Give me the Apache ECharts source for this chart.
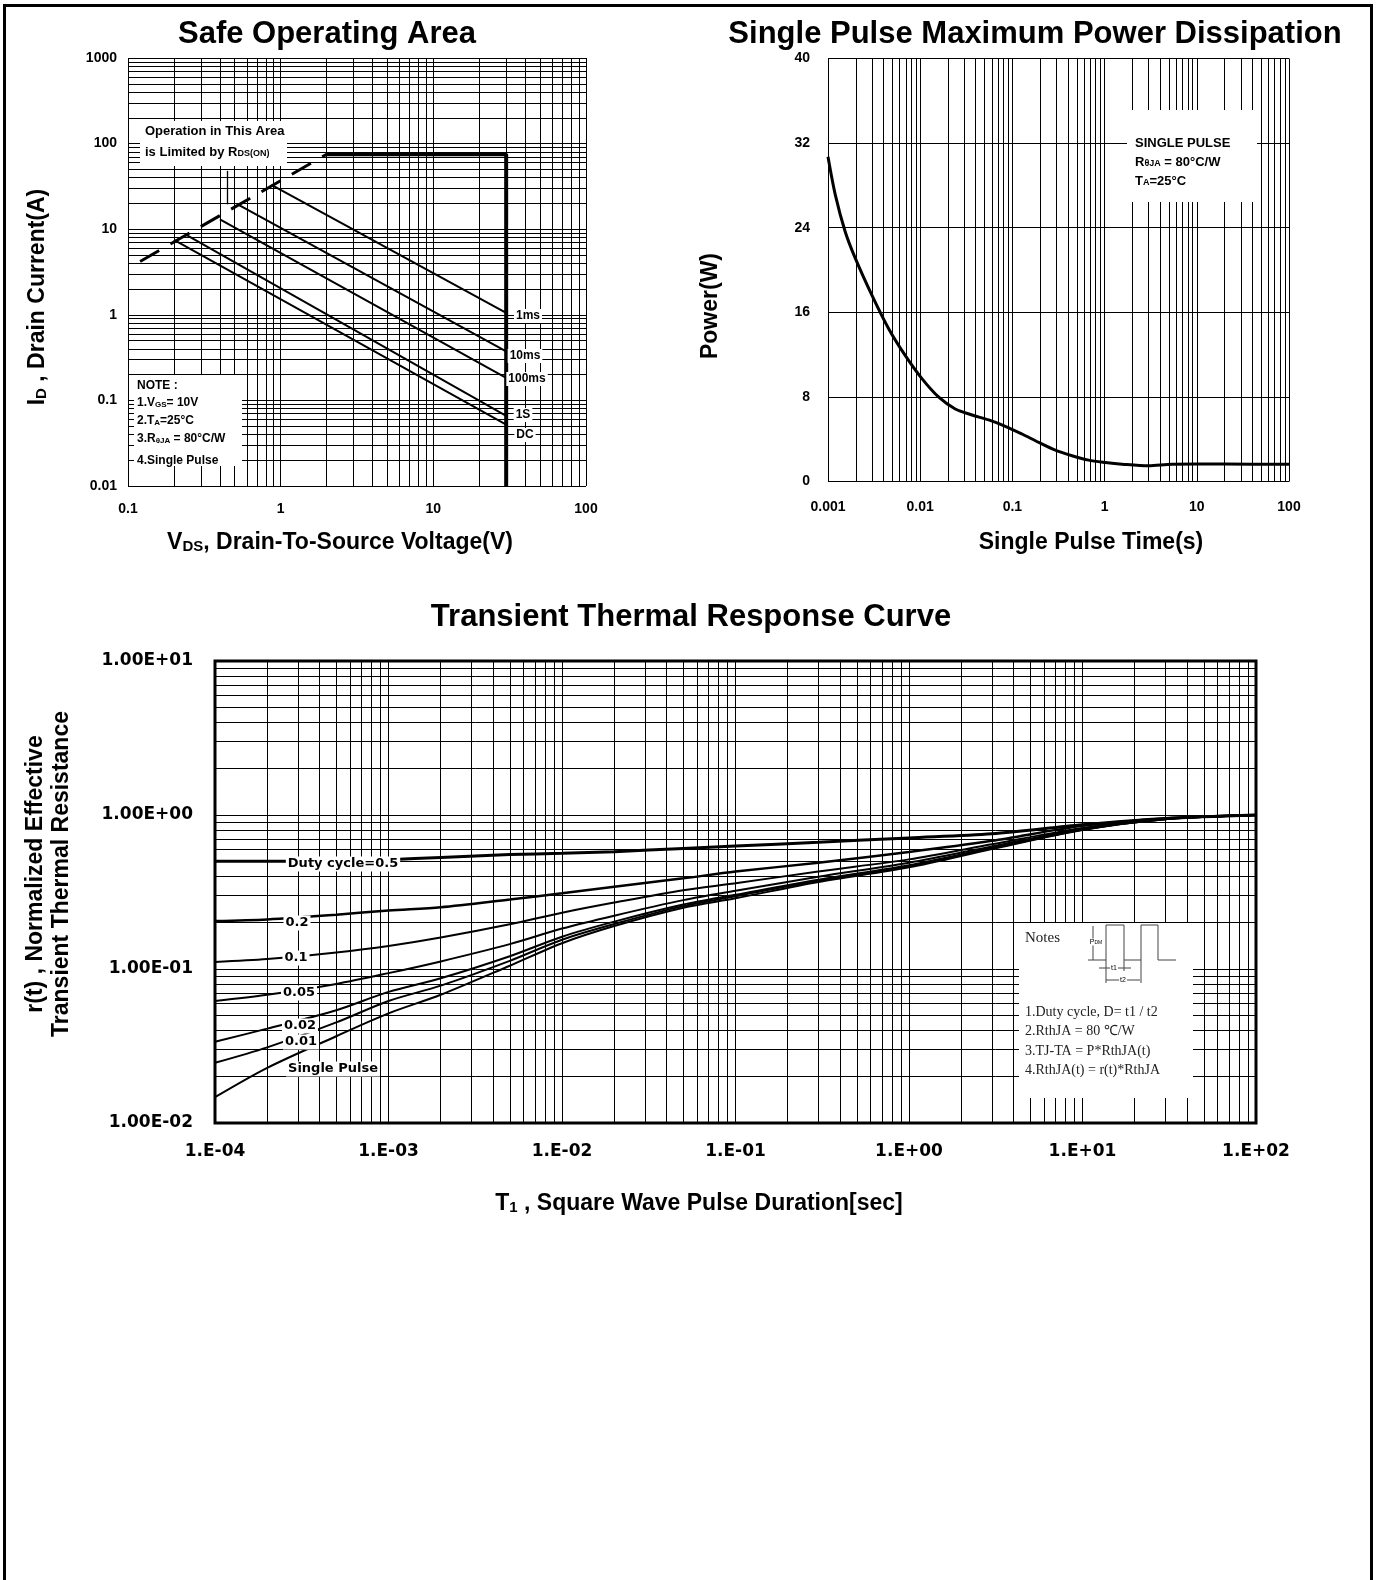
<!DOCTYPE html>
<html>
<head>
<meta charset="utf-8">
<script src="https://cdn.jsdelivr.net/npm/echarts@6/dist/echarts.min.js"></script>
<style>
html, body { margin: 0; padding: 0; background: #fff; }
#main { width: 1379px; height: 1580px; }
#frame { position: absolute; left: 3px; top: 4px; width: 1364px; height: 1600px; border: 3px solid #000; border-bottom: none; pointer-events: none; }
</style>
</head>
<body>
<div id="main"></div>
<div id="frame"></div>
<script>
// ---- Safe Operating Area (VDS in V, ID in A) ----
const soaXLabels = ['0.1', '1', '10', '100'];
const soaYLabels = ['0.01', '0.1', '1', '10', '100', '1000'];
const rdsLimitV = [0.12, 2];
const rdsLimitA = [4.2, 75];
const currentLimitV = [2, 30, 30];
const currentLimitA = [75, 75, 0.01];
const soaNames = ['1ms', '10ms', '100ms', '1S', 'DC'];
const soaStartV = [0.87, 0.527, 0.40, 0.244, 0.2];
const soaStartA = [33, 19.4, 13, 8.45, 7.5];
const soaEndV = [30, 30, 30, 30, 30];
const soaEndA = [1.05, 0.375, 0.183, 0.066, 0.052];

// ---- Single pulse maximum power dissipation ----
const spXLabels = ['0.001', '0.01', '0.1', '1', '10', '100'];
const spYLabels = ['0', '8', '16', '24', '32', '40'];
const pulseTime = [0.001, 0.0012, 0.00154, 0.00198, 0.003, 0.00455, 0.0069, 0.0105, 0.0159, 0.024, 0.0365, 0.0553, 0.0838, 0.127, 0.193, 0.292, 0.443, 0.671, 1.02, 1.55, 3.0, 5.4, 20, 100];
const pulsePower = [30.7, 27.1, 23.6, 21.1, 17.6, 14.45, 11.9, 9.7, 7.97, 6.86, 6.29, 5.82, 5.22, 4.49, 3.7, 2.97, 2.44, 2.02, 1.8, 1.64, 1.49, 1.64, 1.65, 1.62];

// ---- Transient thermal response ----
const ttXLabels = ['1.E-04', '1.E-03', '1.E-02', '1.E-01', '1.E+00', '1.E+01', '1.E+02'];
const ttYLabels = ['1.00E-02', '1.00E-01', '1.00E+00', '1.00E+01'];
const duration = [1e-4, 2e-4, 5e-4, 1e-3, 2e-3, 5e-3, 1e-2, 2e-2, 5e-2, 0.1, 0.3, 1, 3, 10, 30, 100];
const duty05 = [0.5, 0.5, 0.503, 0.513, 0.53, 0.553, 0.564, 0.578, 0.607, 0.629, 0.665, 0.71, 0.755, 0.865, 0.95, 1.0];
const duty02 = [0.205, 0.21, 0.225, 0.24, 0.252, 0.283, 0.31, 0.342, 0.388, 0.429, 0.49, 0.575, 0.68, 0.85, 0.95, 1.0];
const duty01 = [0.111, 0.116, 0.128, 0.141, 0.16, 0.195, 0.232, 0.27, 0.325, 0.36, 0.43, 0.515, 0.645, 0.825, 0.945, 1.0];
const duty005 = [0.062, 0.068, 0.08, 0.094, 0.112, 0.145, 0.183, 0.222, 0.28, 0.322, 0.397, 0.49, 0.625, 0.815, 0.945, 1.0];
const duty002 = [0.0337, 0.041, 0.054, 0.071, 0.087, 0.121, 0.162, 0.203, 0.262, 0.303, 0.38, 0.472, 0.612, 0.806, 0.94, 1.0];
const duty001 = [0.0246, 0.031, 0.045, 0.062, 0.078, 0.113, 0.155, 0.196, 0.256, 0.297, 0.374, 0.465, 0.607, 0.803, 0.94, 1.0];
const singlePulse = [0.0147, 0.0228, 0.0366, 0.0515, 0.068, 0.105, 0.147, 0.19, 0.25, 0.288, 0.367, 0.457, 0.601, 0.8, 0.94, 1.0];

const sans = '"Liberation Sans", Arial, sans-serif';
const wide = '"DejaVu Sans", sans-serif';
const serif = '"Liberation Serif", "Times New Roman", serif';

// log grid lines 1..9 x 10^e
function decades(lo, hi) {
  const out = [];
  for (let e = lo; e < hi; e++) {
    for (let m = 1; m < 10; m++) out.push(m * Math.pow(10, e));
  }
  out.push(Math.pow(10, hi));
  return out;
}

function gridLines(i, xs, ys) {
  return {
    type: 'line', xAxisIndex: i, yAxisIndex: i, data: [], silent: true, z: 1,
    markLine: {
      silent: true, symbol: ['none', 'none'], z: 1, animation: false, precision: 12,
      label: { show: false },
      lineStyle: { color: '#000', width: 1, type: 'solid' },
      data: xs.map(v => ({ xAxis: v })).concat(ys.map(v => ({ yAxis: v })))
    }
  };
}

function curve(i, xs, ys, w, extra) {
  return Object.assign({
    type: 'line', xAxisIndex: i, yAxisIndex: i, z: 3, silent: true,
    symbol: 'none', showSymbol: false,
    data: xs.map((x, k) => [x, ys[k]]),
    lineStyle: { color: '#000', width: w }
  }, extra || {});
}

function text(x, y, str, size, opt) {
  opt = opt || {};
  const al = opt.align || 'center';
  return {
    type: 'text', x: x, y: y, z: 102, rotation: opt.rot || 0,
    style: {
      text: str, fill: opt.fill || '#000',
      font: (opt.weight || 'bold') + ' ' + size + 'px ' + (opt.family || sans),
      align: al, textAlign: al, verticalAlign: 'middle', textVerticalAlign: 'middle',
      rich: opt.rich, backgroundColor: opt.bg, padding: opt.pad
    }
  };
}

function subRich(big, small, family, weight) {
  const w = weight || 'bold';
  return {
    n: { fontSize: big, fontWeight: w, fontFamily: family || sans, verticalAlign: 'bottom' },
    s: { fontSize: small, fontWeight: w, fontFamily: family || sans, verticalAlign: 'bottom' }
  };
}

function box(x, y, w, h) {
  return { type: 'rect', z: 100, shape: { x: x, y: y, width: w, height: h }, style: { fill: '#fff' } };
}

function poly(pts, color) {
  return { type: 'polyline', z: 101, shape: { points: pts }, style: { stroke: color || '#444', lineWidth: 1, fill: null } };
}

const logLabel = (arr, offset) => v => arr[Math.round(Math.log10(v)) + offset] || '';

const hiddenAxis = { axisLine: { show: false }, axisTick: { show: false }, splitLine: { show: false } };

const option = {
  animation: false,
  backgroundColor: '#fff',
  grid: [
    { left: 128, top: 58, width: 458, height: 428, containLabel: false, outerBoundsMode: 'none' },
    { left: 828, top: 58.5, width: 461, height: 423, containLabel: false, outerBoundsMode: 'none' },
    { left: 215, top: 661, width: 1041, height: 462, containLabel: false, outerBoundsMode: 'none',
      show: true, borderColor: '#000', borderWidth: 3, backgroundColor: 'transparent' }
  ],
  xAxis: [
    Object.assign({ type: 'log', gridIndex: 0, min: 0.1, max: 100, splitNumber: 3,
      axisLabel: { margin: 16, color: '#000', fontFamily: sans, fontWeight: 'bold', fontSize: 14, formatter: logLabel(soaXLabels, 1) } }, hiddenAxis),
    Object.assign({ type: 'log', gridIndex: 1, min: 0.001, max: 100, splitNumber: 5,
      axisLabel: { margin: 19, color: '#000', fontFamily: sans, fontWeight: 'bold', fontSize: 14, formatter: logLabel(spXLabels, 3) } }, hiddenAxis),
    Object.assign({ type: 'log', gridIndex: 2, min: 1e-4, max: 100, splitNumber: 6,
      axisLabel: { margin: 20, color: '#000', fontFamily: wide, fontWeight: 'bold', fontSize: 17, formatter: logLabel(ttXLabels, 4) } }, hiddenAxis)
  ],
  yAxis: [
    Object.assign({ type: 'log', gridIndex: 0, min: 0.01, max: 1000, splitNumber: 5,
      axisLabel: { margin: 11, color: '#000', fontFamily: sans, fontWeight: 'bold', fontSize: 14, formatter: logLabel(soaYLabels, 2) } }, hiddenAxis),
    Object.assign({ type: 'value', gridIndex: 1, min: 0, max: 40, interval: 8,
      axisLabel: { margin: 18, color: '#000', fontFamily: sans, fontWeight: 'bold', fontSize: 14, formatter: v => spYLabels[Math.round(v / 8)] } }, hiddenAxis),
    Object.assign({ type: 'log', gridIndex: 2, min: 0.01, max: 10, splitNumber: 3,
      axisLabel: { margin: 22, color: '#000', fontFamily: wide, fontWeight: 'bold', fontSize: 17, formatter: logLabel(ttYLabels, 2) } }, hiddenAxis)
  ],
  series: [],
  graphic: { elements: [] }
};

// --- SOA ---
option.series.push(gridLines(0, decades(-1, 2), decades(-2, 3)));
option.series.push(curve(0, rdsLimitV, rdsLimitA, 3, {
  lineStyle: { color: '#000', width: 3, type: [22, 13] },
  markLine: {
    silent: true, symbol: ['none', 'arrow'], symbolSize: [0, 9], z: 4, animation: false, precision: 12,
    label: { show: false }, lineStyle: { color: '#000', width: 1.3, type: 'solid' },
    data: [[{ coord: [0.447, 48] }, { coord: [0.447, 19.5] }]]
  }
}));
option.series.push(curve(0, currentLimitV, currentLimitA, 4));
soaNames.forEach((n, k) => {
  option.series.push(curve(0, [soaStartV[k], soaEndV[k]], [soaStartA[k], soaEndA[k]], 2, { name: n }));
});

// --- Single pulse power ---
option.series.push(gridLines(1, decades(-3, 2), spYLabels.map(Number)));
option.series.push(curve(1, pulseTime, pulsePower, 3, { smooth: 0.3 }));

// --- Transient thermal ---
option.series.push(gridLines(2, decades(-4, 2), decades(-2, 1)));
[[duty05, 3], [duty02, 2.5], [duty01, 2], [duty005, 2], [duty002, 2], [duty001, 2], [singlePulse, 2]].forEach(s => {
  option.series.push(curve(2, duration, s[0], s[1], { smooth: 0.3 }));
});

const G = option.graphic.elements;
// titles
G.push(text(327, 34, 'Safe Operating Area', 31));
G.push(text(1035, 34, 'Single Pulse Maximum Power Dissipation', 31));
G.push(text(691, 617, 'Transient Thermal Response Curve', 31));

// axis titles
G.push(text(340, 543, '{n|V}{s|DS}{n|, Drain-To-Source Voltage(V)}', 23, { rich: subRich(23, 15) }));
G.push(text(38, 297, '{n|I}{s|D}{n| , Drain Current(A)}', 23, { rot: Math.PI / 2, rich: subRich(23, 15) }));
G.push(text(711, 306, 'Power(W)', 23, { rot: Math.PI / 2 }));
G.push(text(1091, 543, 'Single Pulse Time(s)', 23));
G.push(text(36, 874, 'r(t) , Normalized Effective', 23, { rot: Math.PI / 2 }));
G.push(text(62, 874, 'Transient Thermal Resistance', 23, { rot: Math.PI / 2 }));
G.push(text(699, 1204, '{n|T}{s|1}{n| , Square Wave Pulse Duration[sec]}', 23, { rich: subRich(23, 15) }));

// SOA notes
G.push(box(140, 121, 147, 45));
G.push(text(145, 131, 'Operation in This Area', 13, { align: 'left' }));
G.push(text(145, 152, '{n|is Limited by R}{s|DS(ON)}', 13, { align: 'left', rich: subRich(13, 9) }));
G.push(box(134, 375, 108, 91));
G.push(text(137, 386, 'NOTE :', 12, { align: 'left' }));
G.push(text(137, 403, '{n|1.V}{s|GS}{n|= 10V}', 12, { align: 'left', rich: subRich(12, 8) }));
G.push(text(137, 421, '{n|2.T}{s|A}{n|=25°C}', 12, { align: 'left', rich: subRich(12, 8) }));
G.push(text(137, 439, '{n|3.R}{s|θJA}{n| = 80°C/W}', 12, { align: 'left', rich: subRich(12, 8) }));
G.push(text(137, 461, '4.Single Pulse', 12, { align: 'left' }));
[[528, 316], [525, 356], [527, 379], [523, 415], [525, 435]].forEach((p, k) => {
  G.push(text(p[0], p[1], soaNames[k], 12, { bg: '#fff', pad: [1, 2] }));
});

// single pulse note
G.push(box(1127, 110, 130, 92));
G.push(text(1135, 143, 'SINGLE PULSE', 13, { align: 'left' }));
G.push(text(1135, 162, '{n|R}{s|θJA}{n| = 80°C/W}', 13, { align: 'left', rich: subRich(13, 9) }));
G.push(text(1135, 181, '{n|T}{s|A}{n|=25°C}', 13, { align: 'left', rich: subRich(13, 9) }));

// transient curve labels
[['Duty cycle=0.5', 343, 864], ['0.2', 297, 923], ['0.1', 296, 958], ['0.05', 299, 993],
 ['0.02', 300, 1026], ['0.01', 301, 1042], ['Single Pulse', 333, 1069]].forEach(l => {
  G.push(text(l[1], l[2], l[0], 13, { family: wide, bg: '#fff', pad: [1, 2] }));
});

// transient notes
G.push(box(1019, 923, 174, 175));
G.push(text(1025, 938, 'Notes', 15, { align: 'left', weight: 'normal', family: serif, fill: '#222' }));
['1.Duty cycle, D= t1 / t2', '2.RthJA = 80 ℃/W', '3.TJ-TA = P*RthJA(t)', '4.RthJA(t) = r(t)*RthJA'].forEach((s, k) => {
  G.push(text(1025, [1012, 1031, 1051, 1070][k], s, 14, { align: 'left', weight: 'normal', family: serif, fill: '#222' }));
});
G.push(poly([[1088, 960], [1106, 960], [1106, 925], [1124, 925], [1124, 960], [1141, 960], [1141, 925], [1158, 925], [1158, 960], [1176, 960]]));
G.push(poly([[1093, 926], [1093, 960]]));
G.push(poly([[1106, 960], [1106, 983]]));
G.push(poly([[1124, 960], [1124, 971]]));
G.push(poly([[1141, 960], [1141, 983]]));
G.push(poly([[1099, 968], [1131, 968]]));
G.push(poly([[1106, 980], [1140, 980]]));
G.push(text(1096, 942, '{n|P}{s|DM}', 7, { weight: 'normal', rich: subRich(7, 5, sans, 'normal'), bg: '#fff' }));
G.push(text(1114, 968, 't1', 7, { weight: 'normal', bg: '#fff', pad: [0, 1] }));
G.push(text(1123, 980, 't2', 7, { weight: 'normal', bg: '#fff', pad: [0, 1] }));

const chart = echarts.init(document.getElementById('main'));
chart.setOption(option);
</script>
</body>
</html>
